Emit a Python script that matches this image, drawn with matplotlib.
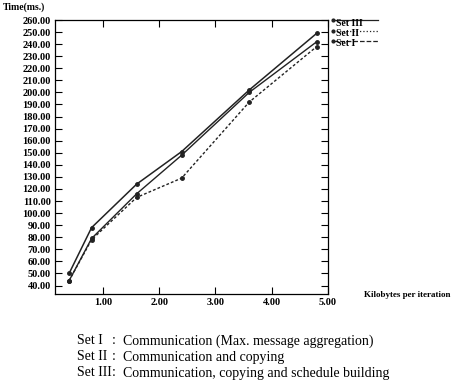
import numpy as np
import matplotlib.pyplot as plt
from matplotlib.lines import Line2D

plt.rcParams['font.family'] = ['Liberation Serif', 'DejaVu Serif']

kb = [0.4, 0.8, 1.6, 2.4, 3.6, 4.8]
set_1 = [44, 78, 113, 129, 192, 238]
set_2 = [44, 79, 116, 148, 200, 242]
set_3 = [50, 88, 124, 151, 202, 249]

y_ticks = np.arange(40, 261, 10)
x_ticks = [1, 2, 3, 4, 5]

W, H = 453, 385
fig = plt.figure(figsize=(W / 100, H / 100), dpi=100)
ax = fig.add_axes([55 / W, 1 - 294 / H, (328 - 55) / W, (294 - 20) / H])

ax.plot(kb, set_3, color='#222222', lw=1.1, marker='o', ms=2.5)
ax.plot(kb, set_2, color='#222222', lw=1.0, marker='o', ms=2.5)
ax.plot(kb, set_1, color='#222222', lw=1.0, ls=(0, (2, 1.5)), marker='o', ms=2.5)

ax.set_xlim(0.15, 5.0)
ax.set_ylim(33, 260)
ax.set_xticks(x_ticks)
ax.set_xticklabels(['%.2f' % v for v in x_ticks])
ax.set_yticks(y_ticks)
ax.set_yticklabels(['%.2f' % v for v in y_ticks])
ax.tick_params(direction='in', length=5, width=0.8, top=True, right=True,
               labelsize=7.5, pad=3)
for lab in ax.get_xticklabels() + ax.get_yticklabels():
    lab.set_fontweight('bold')
for sp in ax.spines.values():
    sp.set_linewidth(0.9)

fig.text(3 / W, 1 - 7 / H, 'Time(ms.)', fontsize=7, fontweight='bold', va='center')
fig.text(364 / W, 1 - 295 / H, 'Kilobytes per iteration', fontsize=6.5,
         fontweight='bold', va='center')

# labels at the right end of the curves
legend_rows = [('Set III', 20, '-'), ('Set II', 31, ':'), ('Set I', 41, '--')]
for name, ypx, style in legend_rows:
    yy = 1 - ypx / H
    fig.add_artist(Line2D([333 / W, 378 / W], [yy, yy], color='#222222',
                          lw=0.9, ls=style))
    fig.add_artist(Line2D([333 / W], [yy], color='#222222', marker='o', ms=2))
    fig.text(336 / W, yy - 3 / H, name, fontsize=7, fontweight='bold', va='center')

notes = [('Set I', 'Communication (Max. message aggregation)'),
         ('Set II', 'Communication and copying'),
         ('Set III', 'Communication, copying and schedule building')]
for (name, desc), ypx in zip(notes, [341, 357, 373]):
    yy = 1 - ypx / H
    fig.text(77 / W, yy, name, fontsize=10, va='center')
    fig.text(112 / W, yy, ':', fontsize=10, va='center')
    fig.text(123 / W, yy, desc, fontsize=10, va='center')

fig.savefig('out.png', dpi=100)
